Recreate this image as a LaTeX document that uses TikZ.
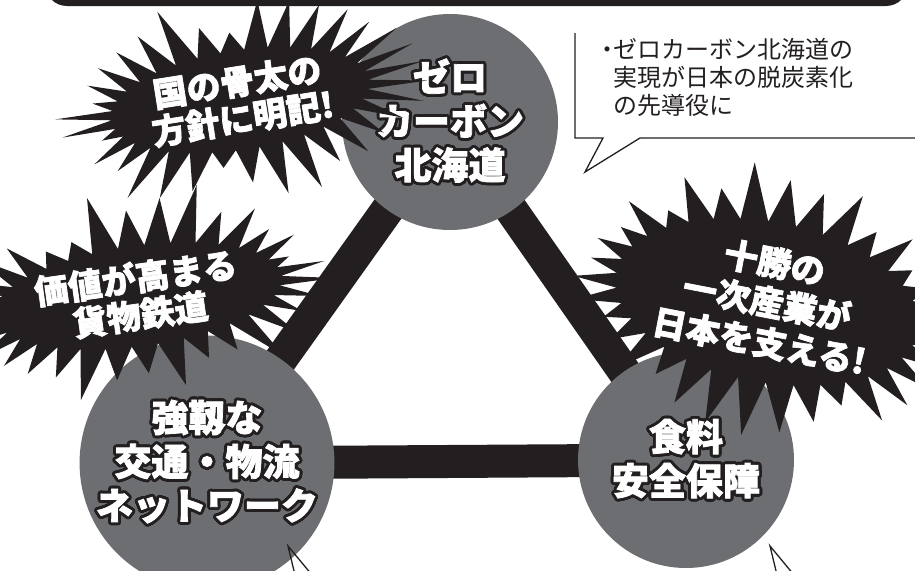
\documentclass[tikz,border=0pt]{standalone}
\usepackage{fontspec}
\setmainfont{Noto Sans CJK JP}[BoldFeatures={FakeBold=2}]
\usepackage[copies]{contour}
\usetikzlibrary{shapes.symbols, positioning, backgrounds}

\definecolor{inkblack}{RGB}{35,31,32}
\definecolor{hubgray}{RGB}{109,110,113}
\setlength{\parindent}{0pt}
\contournumber{40}
\contourlength{2.8pt}
\newcommand{\hubtext}[1]{{\color{white}\contour{inkblack}{#1}}}

\begin{document}
\begin{tikzpicture}[x=1pt, y=-1pt,
		hub/.style={circle, fill=hubgray, minimum size=216pt, inner sep=0pt,
			align=center, font=\bfseries\fontsize{37}{44}\selectfont},
		link/.style={line width=33pt, inkblack},
		burst/.style={starburst, fill=inkblack, text=white, align=center,
			starburst points=34, starburst point height=60pt, inner sep=0pt,
			font=\bfseries\fontsize{34}{37}\selectfont},
		note/.style={draw=inkblack, line width=1.3pt, line join=miter}]
			\path [use as bounding box, clip] (0,0) rectangle (915,570);

			% banner cut off at the top
			\fill [inkblack, rounded corners=22pt] (45,-40) rectangle (908,6);

			% the three pillars
			\node (zero) [hub] at (450,122) {\hubtext{ゼロ}\\\hubtext{カーボン}\\\hubtext{北海道}};
			\node (road) [hub] at (207,463) {\hubtext{強靱な}\\\hubtext{交通・物流}\\\hubtext{ネットワーク}};
			\node (food) [hub] at (686,460) {\hubtext{食料}\\\hubtext{安全保障}};

			\begin{pgfonlayer}{background}
				\draw [link] (zero.center) -- (road.center) -- (food.center) -- cycle;
			\end{pgfonlayer}

			% speech bubble
			\node (notetext) [anchor=north west, align=left, text=inkblack,
			font=\fontsize{24}{28}\selectfont] at (610,35)
			{\llap{\makebox[12pt]{・}}ゼロカーボン北海道の\\実現が日本の脱炭素化\\の先導役に};
			\draw [note] (575,33) -- (575,138) -- (603,138) -- (585,172)
				-- (640,138) -- (918,138);
			\draw [note] (295,575) -- (288,546) -- (312,575);
			\draw [note] (777,575) -- (770,546) -- (794,575);

			% starbursts
			\node (policy) [burst, rotate=9, random starburst=3,
			minimum width=235pt, minimum height=195pt] at (240,100)
			{国の骨太の\\方針に明記!};
			\node (freight) [burst, rotate=8, random starburst=5,
			minimum width=285pt, minimum height=180pt] at (138,296)
			{価値が高まる\\貨物鉄道};
			\node (tokachi) [burst, rotate=-11, random starburst=11,
			minimum width=300pt, minimum height=215pt,
			font=\bfseries\fontsize{34}{40}\selectfont] at (767,302)
			{十勝の\\一次産業が\\日本を支える!};
		\end{tikzpicture}
\end{document}
